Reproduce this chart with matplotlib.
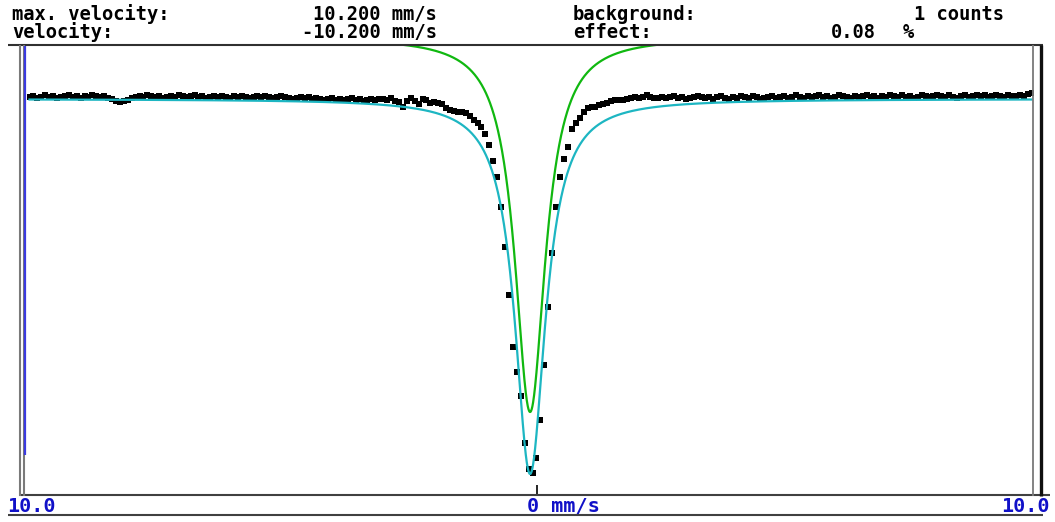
import numpy as np
import matplotlib
matplotlib.use("Agg")
import matplotlib.pyplot as plt
from matplotlib.lines import Line2D

# ---------------- data ----------------
V_START, V_END = -10.33, 10.07           # channel velocities (mm/s)
N_CHANNELS = 256

counts = [
    # 0-89
    1003, 1004, 1002, 1003, 1005, 1003, 1004, 1002, 1003, 1004,
    1005, 1003, 1004, 1002, 1004, 1003, 1005, 1004, 1003, 1004,
    1002, 1001, 999, 998, 999, 1000, 1002, 1003, 1004, 1003,
    1005, 1004, 1003, 1004, 1002, 1003, 1004, 1003, 1005, 1004,
    1003, 1004, 1005, 1003, 1004, 1002, 1003, 1004, 1003, 1004,
    1003, 1002, 1004, 1003, 1004, 1003, 1002, 1003, 1004, 1003,
    1004, 1003, 1002, 1003, 1004, 1003, 1002, 1001, 1002, 1003,
    1002, 1003, 1001, 1002, 1001, 1000, 1001, 1002, 1000, 1001,
    1000, 1001, 1002, 1000, 1001, 999, 1000, 1001, 1000, 1001,
    # 90-106
    1001, 1000, 1002, 999, 998, 993, 999, 1002, 999, 996,
    1001, 1000, 997, 998, 997, 996, 992,
    # 107-118
    990, 989, 988, 988, 987, 984, 980, 977, 973, 966, 955, 939,
    # 119-128
    923, 893, 853, 805, 753, 728, 704, 657, 631, 627,
    # 129-140
    642, 680, 735, 793, 847, 893, 923, 941, 953, 971, 977, 982,
    # 141-161
    988, 992, 993, 993, 995, 996, 997, 999, 1000, 1000,
    1000, 1001, 1002, 1003, 1002, 1003, 1005, 1003, 1002, 1002, 1003,
    # 162-251
    1002, 1003, 1004, 1002, 1003, 1001, 1002, 1003, 1004, 1003,
    1002, 1003, 1001, 1003, 1004, 1002, 1001, 1003, 1002, 1004,
    1003, 1002, 1004, 1003, 1001, 1002, 1003, 1004, 1002, 1003,
    1004, 1002, 1003, 1005, 1003, 1002, 1004, 1003, 1004, 1005,
    1003, 1004, 1002, 1003, 1005, 1004, 1003, 1002, 1004, 1003,
    1004, 1005, 1003, 1004, 1002, 1004, 1003, 1005, 1004, 1003,
    1005, 1003, 1004, 1002, 1003, 1005, 1004, 1003, 1004, 1005,
    1004, 1003, 1005, 1003, 1002, 1004, 1005, 1003, 1004, 1005,
    1004, 1005, 1003, 1004, 1005, 1004, 1003, 1005, 1004, 1004,
    # 252-255
    1005, 1004, 1006, 1007,
]
assert len(counts) == N_CHANNELS

# Lorentzian fit parameters
fit_center = -0.14      # mm/s
fit_hwhm = 0.377        # mm/s
fit_depth = 375.0       # counts
fit_baseline = 1001.0   # counts
component_offset = 62.0  # green sub-spectrum shifted upward

header_left = [("max. velocity:", "10.200 mm/s"), ("velocity:", "-10.200 mm/s")]
header_right = [("background:", "1 counts"), ("effect:", "0.08", "%")]
x_labels = ["10.0", "0 mm/s", "10.0"]

# ---------------- figure ----------------
W, H = 1055, 522
fig = plt.figure(figsize=(W / 100, H / 100), dpi=100)
fig.patch.set_facecolor("white")


def fx(x):
    return x / W


def fy(y):
    return 1 - y / H


ax_l, ax_r, ax_t, ax_b = 24, 1033, 45, 495
ax = fig.add_axes([fx(ax_l), fy(ax_b), (ax_r - ax_l) / W, (ax_b - ax_t) / H])
ax.set_xlim(-10.442, 10.097)
ax.set_ylim(1100 - ax_b, 1100 - ax_t)
for s in ax.spines.values():
    s.set_visible(False)
ax.set_yticks([])
ax.set_xticks([0])
ax.tick_params(axis="x", direction="in", length=7.5, width=1.2, color="black",
               labelbottom=False)
ax.patch.set_alpha(0)

velocity = np.linspace(V_START, V_END, N_CHANNELS)
ax.plot(velocity, counts, ls="none", marker="s", ms=4.0, mew=0, color="black",
        zorder=2, clip_on=True)

v_fine = np.linspace(V_START, V_END, 3000)
lor = fit_depth / (1 + ((v_fine - fit_center) / fit_hwhm) ** 2)
fit = fit_baseline - lor
comp = fit_baseline + component_offset - lor
ax.plot(v_fine, fit, color="#1db6c2", lw=1.6, zorder=3)
ax.plot(v_fine, comp, color="#10b810", lw=1.6, zorder=3)

# ---------------- frame lines ----------------
def hline(y, x0, x1, color, lw):
    fig.add_artist(Line2D([fx(x0), fx(x1)], [fy(y), fy(y)], color=color, lw=lw,
                          solid_capstyle="butt"))


def vline(x, y0, y1, color, lw):
    fig.add_artist(Line2D([fx(x), fx(x)], [fy(y0), fy(y1)], color=color, lw=lw,
                          solid_capstyle="butt"))


hline(45, 8, 1043, "#303030", 1.5)
hline(495, 19, 1050, "#404040", 1.5)
hline(515, 8, 1043, "#404040", 1.5)
vline(19.5, 45, 496, "#7a7a7a", 1.5)
vline(23.5, 45, 496, "#7a7a7a", 1.5)
vline(24.5, 46, 455, "#3a3ae0", 1.6)
vline(1033, 45, 496, "#7a7a7a", 1.3)
vline(1041, 45, 496, "#101010", 2.4)

# ---------------- texts ----------------
font = dict(family="DejaVu Sans Mono", weight="bold", fontsize=13.5)
ys = [20.5, 38.5]
for (lab, val), y in zip(header_left, ys):
    fig.text(fx(12), fy(y), lab, ha="left", va="baseline", color="black", **font)
    fig.text(fx(437), fy(y), val, ha="right", va="baseline", color="black", **font)

fig.text(fx(573), fy(ys[0]), header_right[0][0], ha="left", va="baseline", **font)
fig.text(fx(1004), fy(ys[0]), header_right[0][1], ha="right", va="baseline", **font)
fig.text(fx(573), fy(ys[1]), header_right[1][0], ha="left", va="baseline", **font)
fig.text(fx(876), fy(ys[1]), header_right[1][1], ha="right", va="baseline", **font)
fig.text(fx(903), fy(ys[1]), header_right[1][2], ha="left", va="baseline", **font)

blue = "#1010c8"
bfont = dict(font, fontsize=14.5)
fig.text(fx(7), fy(512.5), x_labels[0], ha="left", va="baseline", color=blue, **bfont)
fig.text(fx(527), fy(512.5), x_labels[1], ha="left", va="baseline", color=blue, **bfont)
fig.text(fx(1050), fy(512.5), x_labels[2], ha="right", va="baseline", color=blue, **bfont)

fig.savefig("out.png", dpi=100, facecolor="white")
